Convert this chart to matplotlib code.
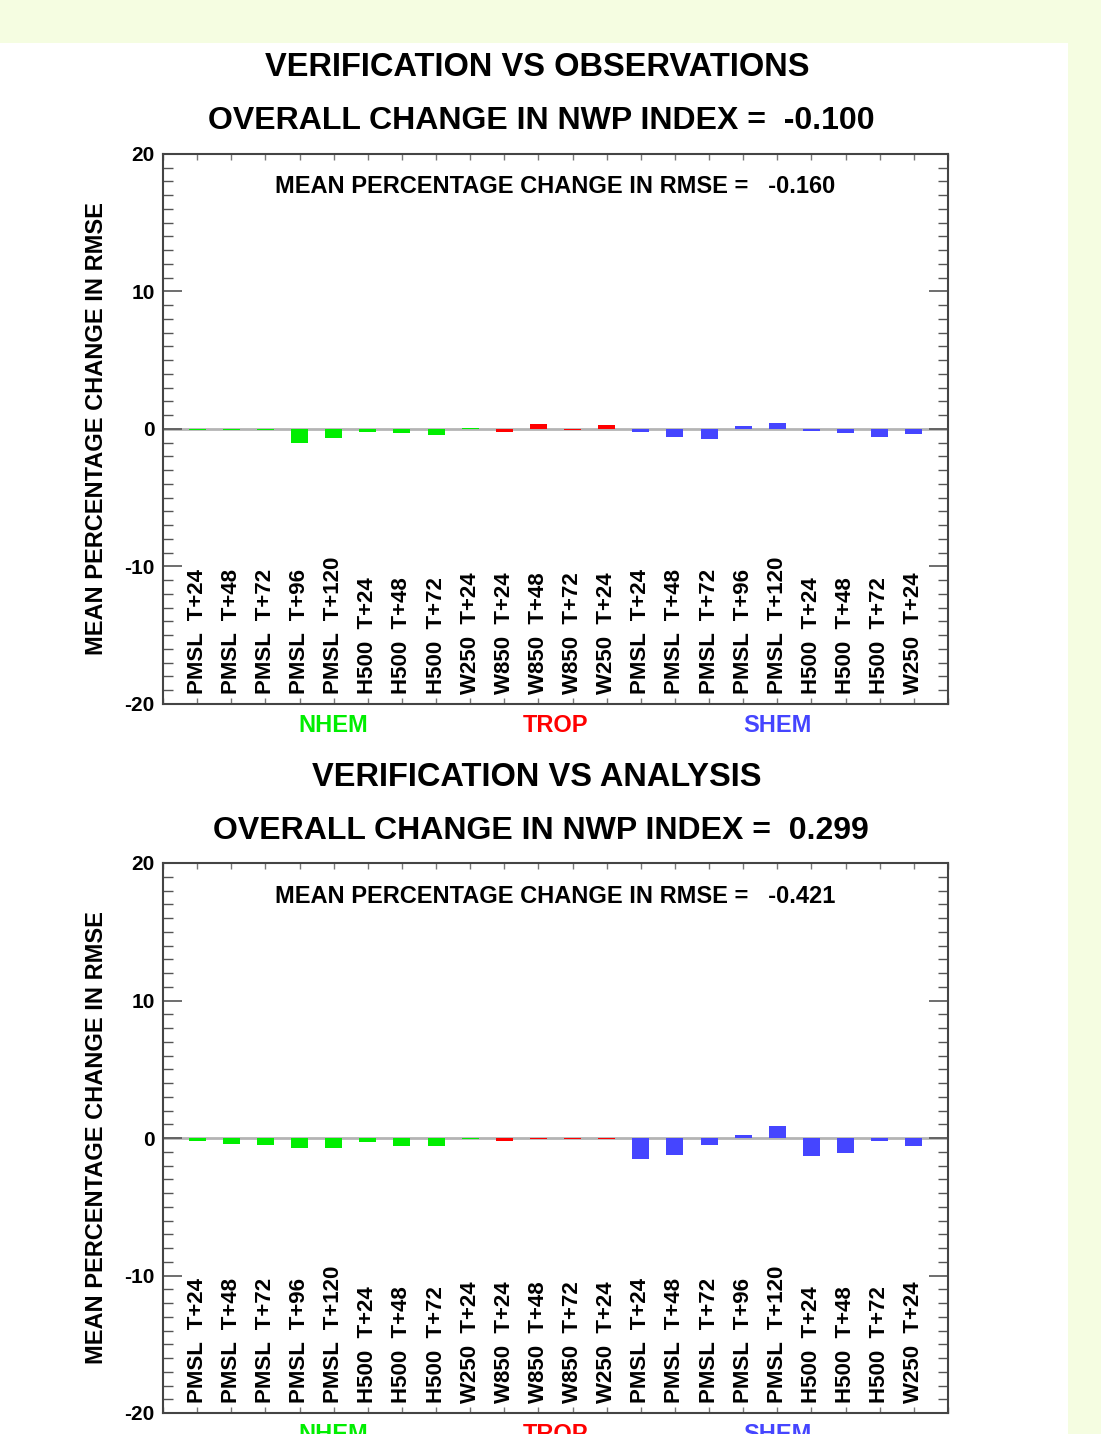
import numpy as np
import matplotlib
matplotlib.use('Agg')
import matplotlib.pyplot as plt
from matplotlib.patches import Rectangle

plt.rcParams['font.family'] = ['Liberation Sans', 'DejaVu Sans']
plt.rcParams['font.weight'] = 'bold'

#==================
# Datos
#==================
labels = ['PMSL  T+24', 'PMSL  T+48', 'PMSL  T+72', 'PMSL  T+96', 'PMSL  T+120',
          'H500  T+24', 'H500  T+48', 'H500  T+72', 'W250  T+24',
          'W850  T+24', 'W850  T+48', 'W850  T+72', 'W250  T+24',
          'PMSL  T+24', 'PMSL  T+48', 'PMSL  T+72', 'PMSL  T+96', 'PMSL  T+120',
          'H500  T+24', 'H500  T+48', 'H500  T+72', 'W250  T+24']
region = ['NHEM'] * 9 + ['TROP'] * 4 + ['SHEM'] * 9

obs_vals = [-0.1, -0.05, -0.1, -1.0, -0.65, -0.25, -0.3, -0.45, 0.1,
            -0.2, 0.35, -0.05, 0.3,
            -0.2, -0.55, -0.75, 0.2, 0.4, -0.15, -0.3, -0.55, -0.35]
ana_vals = [-0.2, -0.4, -0.5, -0.7, -0.7, -0.3, -0.55, -0.6, -0.05,
            -0.25, -0.05, -0.05, -0.05,
            -1.5, -1.25, -0.5, 0.2, 0.9, -1.3, -1.1, -0.25, -0.6]

titles = ['VERIFICATION VS OBSERVATIONS', 'VERIFICATION VS ANALYSIS']
nwp_index = ['-0.100', '0.299']
mean_rmse = ['-0.160', '-0.421']

region_names = ['NHEM', 'TROP', 'SHEM']
region_colors = {'NHEM': '#00ee00', 'TROP': '#ff0000', 'SHEM': '#4545ff'}
region_pos = [5, 11.5, 18]

#==================
# Figura
#==================
fig = plt.figure(figsize=(11.01, 14.34), dpi=100)
fig.patch.set_facecolor('#f5fde1')
fig.patches.append(Rectangle((0, 0), 1068 / 1101, 1 - 43 / 1434,
                             transform=fig.transFigure, facecolor='white',
                             edgecolor='none', zorder=-5))

x = np.arange(1, len(labels) + 1)
W, H = 1101, 1434
ax_tops = [154, 863]
title_y = [(68, 121), (777, 831)]

for k, vals in enumerate([obs_vals, ana_vals]):
    top = ax_tops[k]
    ax = fig.add_axes([163 / W, 1 - (top + 550) / H, 785 / W, 550 / H])
    ax.set_facecolor('white')
    ax.axhline(0, color='#b4b4b4', lw=2, zorder=1)
    cols = [region_colors[r] for r in region]
    ax.bar(x, vals, width=0.5, color=cols, zorder=2)
    ax.set_xlim(0, 23)
    ax.set_ylim(-20, 20)

    ax.set_yticks([-20, -10, 0, 10, 20])
    ax.set_yticklabels(['-20', '-10', '0', '10', '20'], fontsize=15, fontweight='bold')
    ax.set_yticks(np.arange(-20, 21, 1), minor=True)
    ax.tick_params(axis='y', which='major', direction='in', length=14, width=1.2,
                   right=True, colors='#555555', labelcolor='black', pad=6)
    ax.tick_params(axis='y', which='minor', direction='in', length=7, width=1,
                   right=True, colors='#555555')
    ax.set_xticks(np.arange(0, 24, 1))
    ax.set_xticklabels([])
    ax.tick_params(axis='x', which='major', direction='in', length=4, width=1,
                   top=True, colors='#777777')
    for s in ax.spines.values():
        s.set_color('#444444')
        s.set_linewidth(1.5)

    for xi, lab in zip(x, labels):
        ax.text(xi, -19.3, lab, rotation=90, ha='center', va='bottom',
                fontsize=16, fontweight='bold')

    ax.text(0.5, 0.94, 'MEAN PERCENTAGE CHANGE IN RMSE =   ' + mean_rmse[k],
            transform=ax.transAxes, ha='center', va='center',
            fontsize=17, fontweight='bold')

    for name, pos in zip(region_names, region_pos):
        ax.text(pos, -20.75, name, ha='center', va='top', fontsize=17,
                fontweight='bold', color=region_colors[name], clip_on=False)

    fig.text(97 / W, 1 - (top + 275) / H, 'MEAN PERCENTAGE CHANGE IN RMSE',
             rotation=90, ha='center', va='center', fontsize=17, fontweight='bold')

    fig.text(537 / W, 1 - title_y[k][0] / H, titles[k], ha='center', va='center',
             fontsize=23.5, fontweight='bold')
    fig.text(541 / W, 1 - title_y[k][1] / H,
             'OVERALL CHANGE IN NWP INDEX =  ' + nwp_index[k],
             ha='center', va='center', fontsize=23, fontweight='bold')

fig.savefig('out.png', dpi=100, facecolor=fig.get_facecolor())
